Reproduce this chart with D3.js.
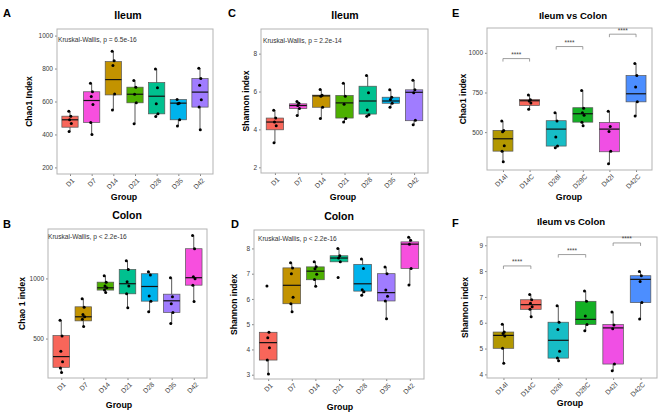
<!DOCTYPE html>
<html>
<head>
<meta charset="utf-8">
<script src="https://cdn.jsdelivr.net/npm/d3@7"></script>
<style>
  body { margin: 0; background: #fff; }
  svg { font-family: "Liberation Sans", Arial, sans-serif; }
</style>
</head>
<body>
<div id="chart"></div>
<script>
// groups
const groups7 = ["D1", "D7", "D14", "D21", "D28", "D35", "D42"];
const groups6 = ["D14I", "D14C", "D28I", "D28C", "D42I", "D42C"];

// fills
const colorsIleum = ["#F8665A", "#F74FDE", "#C39300", "#4DB000", "#00C08F", "#00B3EC", "#A07CFF"];
const colorsColon = ["#F8665A", "#C39300", "#4DB000", "#00C08F", "#00B3EC", "#A07CFF", "#F74FDE"];
const colorsVs = ["#B39800", "#F8665A", "#17BDC6", "#13B024", "#F04FE4", "#4C8EFF"];

// box stats: [lower whisker, q1, median, q3, upper whisker]
const statsA = [[418, 444, 489, 511, 541], [400, 473, 606, 659, 711], [548, 640, 733, 842, 905],
  [465, 592, 644, 687, 727], [511, 525, 632, 715, 798], [451, 489, 590, 612, 612], [428, 566, 657, 739, 802]];
const pointsA = [[541, 511, 489, 467, 418], [711, 659, 630, 582, 473, 400], [905, 848, 818, 646, 548],
  [727, 687, 644, 592, 465], [798, 683, 586, 525, 509], [612, 590, 586, 489, 451], [802, 739, 699, 610, 566, 428]];

const statsC = [[3.29, 3.98, 4.39, 4.60, 5.01], [4.73, 5.10, 5.26, 5.35, 5.47], [4.58, 5.17, 5.77, 5.81, 6.11],
  [4.39, 4.60, 5.40, 5.79, 6.44], [4.69, 4.81, 5.50, 6.28, 6.85], [5.17, 5.38, 5.50, 5.70, 6.09], [4.25, 4.46, 5.96, 6.09, 6.60]];
const pointsC = [[5.01, 4.60, 4.39, 4.19, 3.29], [5.47, 5.38, 5.26, 5.10, 4.73], [6.11, 5.81, 5.75, 5.17, 4.58],
  [6.44, 5.75, 5.33, 4.57, 4.39], [6.85, 5.93, 5.03, 4.78, 4.69], [6.09, 5.70, 5.58, 5.38, 5.17], [6.60, 6.09, 5.93, 4.48, 4.25]];

const statsE = [[313, 380, 458, 511, 570], [645, 668, 698, 706, 735], [402, 412, 519, 572, 622],
  [540, 563, 616, 654, 763], [301, 376, 519, 561, 632], [601, 691, 742, 857, 933]];
const pointsE = [[570, 511, 502, 414, 380, 313], [735, 704, 696, 683, 645], [622, 570, 469, 412, 402],
  [763, 651, 622, 607, 563, 540], [632, 536, 504, 380, 301], [933, 857, 784, 691, 601]];

const statsB = [[217, 261, 350, 525, 653], [600, 647, 681, 764, 831], [883, 903, 922, 969, 1022],
  [756, 872, 956, 1075, 1147], [722, 811, 933, 1039, 1056], [625, 717, 814, 869, 1006], [808, 944, 1006, 1247, 1356]];
const pointsB = [[653, 522, 394, 308, 256, 217], [831, 761, 700, 681, 661, 600], [1022, 969, 936, 922, 903, 883],
  [1147, 1075, 972, 936, 872, 756], [1056, 1028, 853, 811, 722], [1006, 847, 789, 717, 625], [1356, 1247, 1014, 997, 944, 808]];

const statsD = [[3.03, 3.58, 4.27, 4.68, 4.68], [5.49, 5.81, 6.54, 7.23, 7.43], [6.50, 6.76, 7.10, 7.27, 7.47],
  [7.47, 7.47, 7.62, 7.71, 8.00], [6.15, 6.31, 6.60, 7.37, 7.58], [5.22, 5.92, 6.25, 7.00, 7.26], [6.55, 7.21, 8.17, 8.26, 8.44]];
const pointsD = [[6.51, 4.68, 4.46, 4.07, 3.58, 3.03], [7.43, 7.23, 7.00, 6.07, 5.81, 5.49], [7.47, 7.27, 7.20, 6.98, 6.77, 6.50],
  [8.00, 7.71, 7.62, 7.47, 6.85], [7.58, 7.21, 6.36, 6.28, 6.15], [7.26, 7.00, 6.35, 6.11, 5.92, 5.22], [8.44, 8.32, 8.17, 7.21, 6.55]];

const statsF = [[4.43, 5.01, 5.51, 5.64, 5.94], [6.23, 6.52, 6.70, 6.89, 7.09], [4.53, 4.63, 5.32, 6.02, 6.66],
  [5.69, 5.93, 6.13, 6.83, 7.23], [4.14, 4.40, 5.80, 5.93, 6.42], [6.14, 6.78, 7.68, 7.82, 7.98]];
const pointsF = [[5.94, 5.64, 5.58, 5.49, 5.01, 4.43], [7.09, 6.89, 6.75, 6.62, 6.52, 6.23], [6.66, 6.02, 5.74, 4.90, 4.63, 4.53],
  [7.23, 6.83, 6.26, 5.93, 5.69], [6.42, 5.91, 5.77, 4.40, 4.14], [7.98, 7.82, 7.60, 6.78, 6.14]];

// significance bracket heights (pairs 1-2, 3-4, 5-6)
const bracketsE = [964, 1040, 1118];
const bracketsF = [8.20, 8.64, 9.09];

const ticksA = [200, 400, 600, 800, 1000];
const ticksC = [2, 4, 6, 8];
const ticksE = [500, 750, 1000];
const ticksB = [500, 1000];
const ticksD = [3, 4, 5, 6, 7, 8];
const ticksF = [4, 5, 6, 7, 8, 9];

const panels = [
  { letter: "A", L: [3, 17], title: "Ileum", ts: 10.5, T: [128, 19], ytitle: "Chao1 Index", yx: 29, xt: [124, 200],
    frame: [57, 29, 213, 174], domain: [160, 1040], ticks: ticksA, cats: groups7, colors: colorsIleum,
    stats: statsA, points: pointsA, kw: "Kruskal-Wallis, p = 6.5e-16", kwAt: [58, 42] },
  { letter: "C", L: [228, 17], title: "Ileum", ts: 10.5, T: [345, 19], ytitle: "Shannon index", yx: 246, xt: [343, 200],
    frame: [261, 29, 428, 173], domain: [1.7, 9.3], ticks: ticksC, cats: groups7, colors: colorsIleum,
    stats: statsC, points: pointsC, kw: "Kruskal-Wallis, p = 2.2e-14", kwAt: [263, 43] },
  { letter: "E", L: [452, 17], title: "Ileum vs Colon", ts: 9.6, T: [573, 19], ytitle: "Chao1 index", yx: 463, xt: [569, 200],
    frame: [487, 28, 652, 170], domain: [261, 1157], ticks: ticksE, cats: groups6, colors: colorsVs,
    stats: statsE, points: pointsE, brackets: bracketsE },
  { letter: "B", L: [3, 228], title: "Colon", ts: 10.5, T: [127, 219], ytitle: "Chao 1 index", yx: 22, xt: [119, 408],
    frame: [48, 229, 207, 378], domain: [172, 1411], ticks: ticksB, cats: groups7, colors: colorsColon,
    stats: statsB, points: pointsB, kw: "Kruskal-Wallis, p < 2.2e-16", kwAt: [48, 239] },
  { letter: "D", L: [231, 228], title: "Colon", ts: 10.5, T: [339, 220], ytitle: "Shannon index", yx: 234, xt: [340, 410],
    frame: [254, 230, 424, 379], domain: [2.83, 8.73], ticks: ticksD, cats: groups7, colors: colorsColon,
    stats: statsD, points: pointsD, kw: "Kruskal-Wallis, p < 2.2e-16", kwAt: [258, 241] },
  { letter: "F", L: [452, 227], title: "Ileum vs Colon", ts: 9.6, T: [571, 225], ytitle: "Shannon index", yx: 465, xt: [570, 406],
    frame: [487, 237, 657, 378], domain: [3.86, 9.32], ticks: ticksF, cats: groups6, colors: colorsVs,
    stats: statsF, points: pointsF, brackets: bracketsF }
];

const svg = d3.select("#chart").append("svg")
  .attr("width", 669).attr("height", 418);

const jit = [-1.2, 0.8, -0.4, 1.3, -0.9, 0.3];

panels.forEach(p => {
  const [x0, y0, x1, y1] = p.frame;
  const n = p.cats.length;
  const step = (x1 - x0) / (n - 1 + 1.2);
  const x = d3.scalePoint().domain(p.cats).range([x0 + 0.6 * step, x1 - 0.6 * step]);
  const y = d3.scaleLinear().domain(p.domain).range([y1, y0]);
  const bw = step * 0.75;
  const g = svg.append("g");

  g.append("text").attr("x", p.L[0]).attr("y", p.L[1]).text(p.letter)
    .attr("font-size", 11).attr("font-weight", "bold");
  g.append("text").attr("x", p.T[0]).attr("y", p.T[1]).text(p.title)
    .attr("text-anchor", "middle").attr("font-size", p.ts).attr("font-weight", "bold");

  // y axis
  const yAxis = g.append("g").attr("transform", `translate(${x0},0)`)
    .call(d3.axisLeft(y).tickValues(p.ticks).tickFormat(d => String(d)).tickSize(2).tickPadding(2));
  yAxis.select(".domain").remove();
  yAxis.selectAll("line").attr("stroke", "#333").attr("stroke-width", 0.6);
  yAxis.selectAll("text").attr("font-size", 6.5).attr("fill", "#3a3a3a")
    .attr("font-family", "Liberation Sans, Arial, sans-serif");

  // x axis
  const xAxis = g.append("g").attr("transform", `translate(0,${y1})`)
    .call(d3.axisBottom(x).tickSize(2).tickPadding(2));
  xAxis.select(".domain").remove();
  xAxis.selectAll("line").attr("stroke", "#333").attr("stroke-width", 0.6);
  xAxis.selectAll("text").attr("font-size", 6.8).attr("fill", "#3a3a3a")
    .attr("font-family", "Liberation Sans, Arial, sans-serif")
    .attr("text-anchor", "end").attr("dy", null).attr("y", 0)
    .attr("transform", "translate(4.5,7) rotate(-45)");

  g.append("text").attr("transform", `translate(${p.yx},${(y0 + y1) / 2}) rotate(-90)`)
    .attr("text-anchor", "middle").attr("dy", "0.35em").text(p.ytitle)
    .attr("font-size", 8.5).attr("font-weight", "bold");
  g.append("text").attr("x", p.xt[0]).attr("y", p.xt[1]).text("Group")
    .attr("text-anchor", "middle").attr("font-size", 8.8).attr("font-weight", "bold");

  // boxes
  const box = g.selectAll("g.box").data(p.cats).join("g").attr("class", "box");
  box.append("line")
    .attr("x1", d => x(d)).attr("x2", d => x(d))
    .attr("y1", (d, i) => y(p.stats[i][0])).attr("y2", (d, i) => y(p.stats[i][4]))
    .attr("stroke", "#111").attr("stroke-width", 0.7);
  box.append("rect")
    .attr("x", d => x(d) - bw / 2).attr("width", bw)
    .attr("y", (d, i) => y(p.stats[i][3]))
    .attr("height", (d, i) => y(p.stats[i][1]) - y(p.stats[i][3]))
    .attr("fill", (d, i) => p.colors[i]).attr("stroke", "#555").attr("stroke-width", 0.7);
  box.append("line")
    .attr("x1", d => x(d) - bw / 2).attr("x2", d => x(d) + bw / 2)
    .attr("y1", (d, i) => y(p.stats[i][2])).attr("y2", (d, i) => y(p.stats[i][2]))
    .attr("stroke", "#111").attr("stroke-width", 1.2);
  box.each(function (d, i) {
    d3.select(this).selectAll("circle").data(p.points[i]).join("circle")
      .attr("cx", (v, j) => x(d) + jit[j % jit.length])
      .attr("cy", v => y(v)).attr("r", 1.5).attr("fill", "#000");
  });

  // frame
  g.append("rect").attr("x", x0).attr("y", y0).attr("width", x1 - x0).attr("height", y1 - y0)
    .attr("fill", "none").attr("stroke", "#b3b3b3").attr("stroke-width", 1);

  if (p.kw) {
    g.append("text").attr("x", p.kwAt[0]).attr("y", p.kwAt[1]).text(p.kw)
      .attr("font-size", 6.6).attr("fill", "#333");
  }
  if (p.brackets) {
    p.brackets.forEach((b, k) => {
      const xa = x(p.cats[2 * k]), xb = x(p.cats[2 * k + 1]), yb = y(b);
      g.append("path").attr("d", `M${xa},${yb + 3}V${yb}H${xb}V${yb + 3}`)
        .attr("fill", "none").attr("stroke", "#888").attr("stroke-width", 0.8);
      g.append("text").attr("x", (xa + xb) / 2).attr("y", yb - 1.5).text("****")
        .attr("text-anchor", "middle").attr("font-size", 6.5).attr("fill", "#444");
    });
  }
});
</script>
</body>
</html>
